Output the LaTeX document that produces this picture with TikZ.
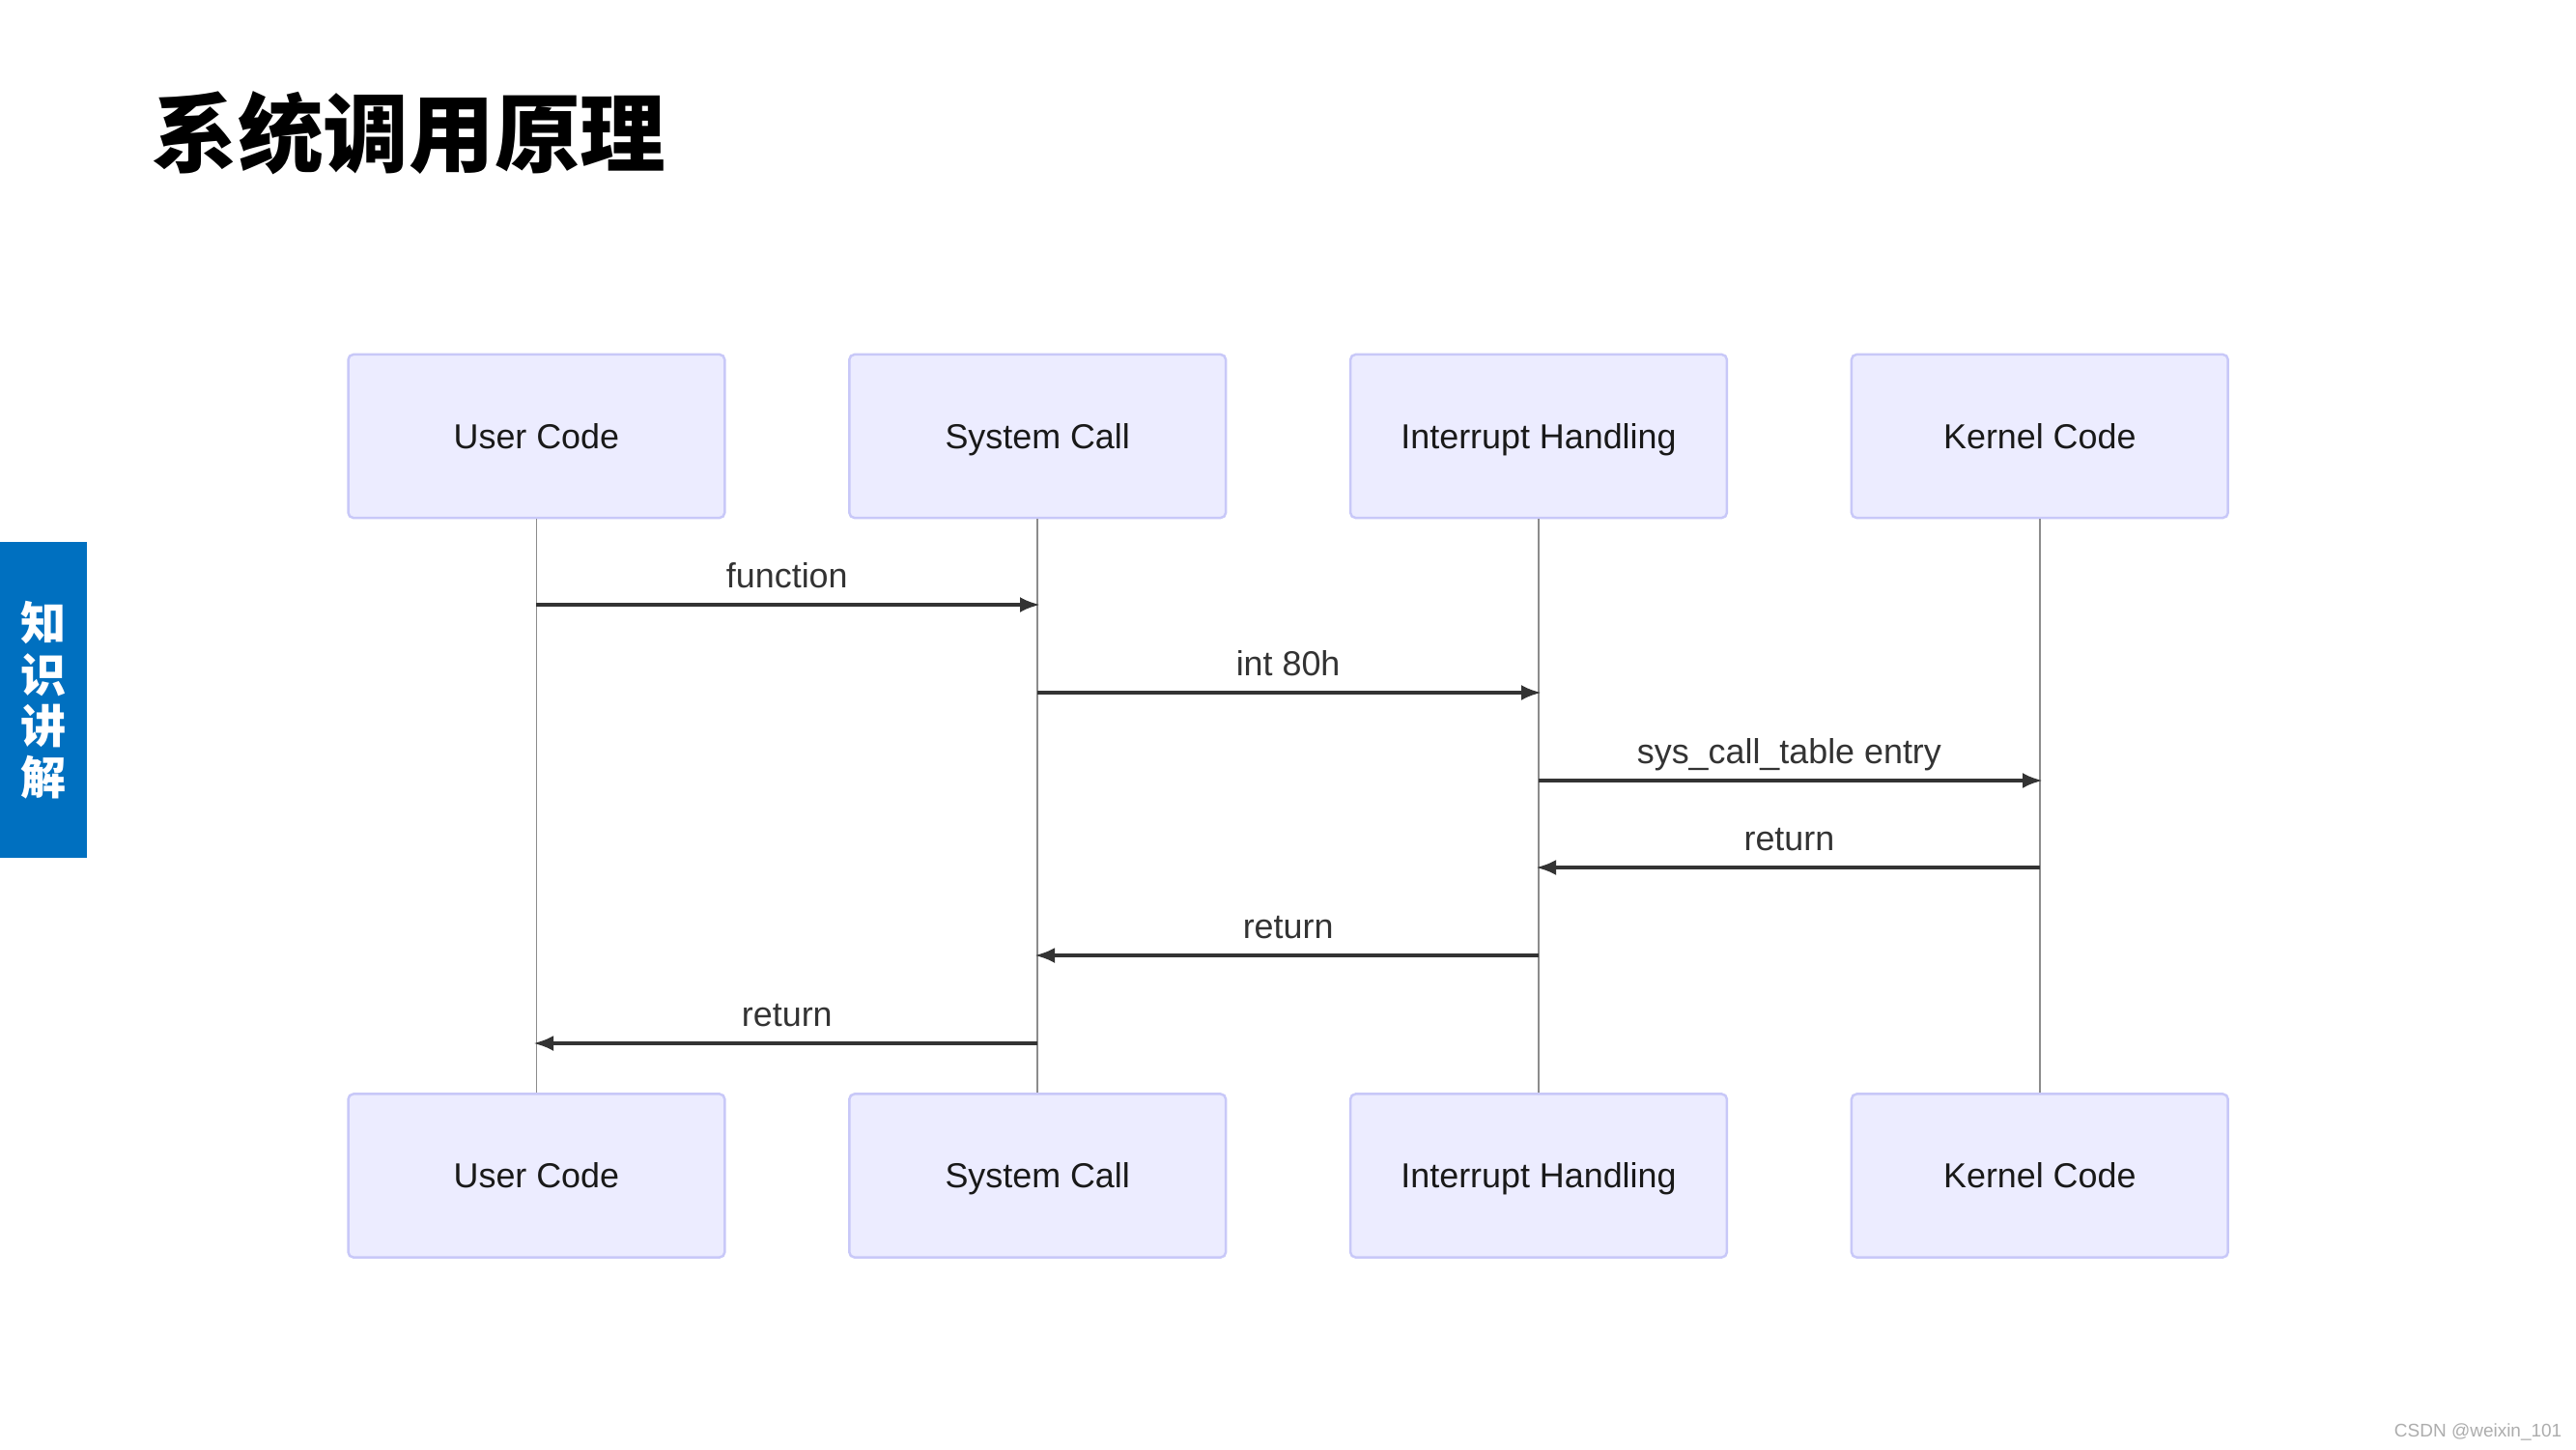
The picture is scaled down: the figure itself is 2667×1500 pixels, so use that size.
\documentclass[tikz,border=0pt]{standalone}
\usepackage{fontspec}
\setmainfont{Liberation Sans}
\newfontfamily\cjk{Noto Sans CJK SC}
\usetikzlibrary{arrows.meta}
\definecolor{actfill}{HTML}{ECECFF}
\definecolor{actdraw}{HTML}{C8C8F8}
\definecolor{lifeln}{HTML}{8C8C8C}
\definecolor{msgcol}{HTML}{333333}
\definecolor{tabblue}{HTML}{0070C0}
\definecolor{wmark}{HTML}{ADADAD}
\tikzset{
  actor/.style={draw=actdraw, fill=actfill, line width=0.7pt, rounded corners=1.5pt,
    minimum width=3.895cm, minimum height=1.69cm, inner sep=0pt,
    text height=9pt, text depth=1.7pt,
    font=\fontsize{10.2pt}{12pt}\selectfont, text=black!90},
  lifeline/.style={draw=lifeln, line width=0.5pt},
  msg/.style={draw=msgcol, line width=1.15pt, -{Latex[length=0.21cm,width=0.16cm]}},
  msglabel/.style={anchor=base, inner sep=0pt, text=msgcol, font=\fontsize{10.2pt}{12pt}\selectfont},
}
\begin{document}
\begin{tikzpicture}[x=0.01cm, y=-0.01cm]
\useasboundingbox (0,0) rectangle (2667,1500);
\fill[white] (0,0) rectangle (2667,1500);

% title
\node[inner sep=0pt, font=\cjk\bfseries\fontsize{25.2pt}{28pt}\selectfont] (title) at (423.5,138) {系统调用原理};

% side tab
\fill[tabblue] (0,561) rectangle (90,888);
\node[inner sep=0pt, align=center, text=white, font=\cjk\bfseries\fontsize{13.4pt}{15.2pt}\selectfont] (tab) at (45,725) {知\\识\\讲\\解};

% actors top
\node[actor] (uct) at (555.4,451.5) {User Code};
\node[actor] (sct) at (1074.2,451.5) {System Call};
\node[actor] (iht) at (1593,451.5) {Interrupt Handling};
\node[actor] (kct) at (2111.8,451.5) {Kernel Code};
% actors bottom
\node[actor] (ucb) at (555.4,1217) {User Code};
\node[actor] (scb) at (1074.2,1217) {System Call};
\node[actor] (ihb) at (1593,1217) {Interrupt Handling};
\node[actor] (kcb) at (2111.8,1217) {Kernel Code};

% lifelines
\draw[lifeline] (uct.south) -- (ucb.north);
\draw[lifeline] (sct.south) -- (scb.north);
\draw[lifeline] (iht.south) -- (ihb.north);
\draw[lifeline] (kct.south) -- (kcb.north);

% message points
\coordinate (m1a) at (555.4,626);   \coordinate (m1b) at (1077,626);
\coordinate (m2a) at (1074.2,717);  \coordinate (m2b) at (1596,717);
\coordinate (m3a) at (1593,808);    \coordinate (m3b) at (2115,808);
\coordinate (m4a) at (2111.8,898);  \coordinate (m4b) at (1590,898);
\coordinate (m5a) at (1593,989);    \coordinate (m5b) at (1071,989);
\coordinate (m6a) at (1074.2,1080); \coordinate (m6b) at (552,1080);

\draw[msg] (m1a) -- (m1b);
\draw[msg] (m2a) -- (m2b);
\draw[msg] (m3a) -- (m3b);
\draw[msg] (m4a) -- (m4b);
\draw[msg] (m5a) -- (m5b);
\draw[msg] (m6a) -- (m6b);

\node[msglabel] (l1) at (814.8,608) {function};
\node[msglabel] (l2) at (1333.6,699) {int 80h};
\node[msglabel] (l3) at (1852.4,790) {sys\_call\_table entry};
\node[msglabel] (l4) at (1852.4,880) {return};
\node[msglabel] (l5) at (1333.6,971) {return};
\node[msglabel] (l6) at (814.8,1062) {return};

% watermark
\node[anchor=east, inner sep=0pt, text=wmark, font=\fontsize{5.4pt}{6pt}\selectfont] (wm) at (2653,1482) {CSDN @weixin\_101};
\end{tikzpicture}
\end{document}
